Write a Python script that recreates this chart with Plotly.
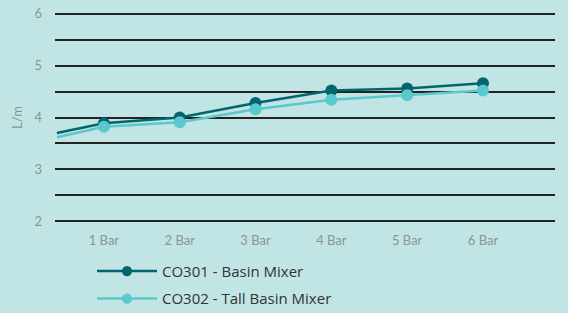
import plotly.graph_objects as go

# Data
x_labels = ["1 Bar", "2 Bar", "3 Bar", "4 Bar", "5 Bar", "6 Bar"]
x_pos = [0.38, 1, 2, 3, 4, 5, 6]          # first point: line start at left edge (no marker)
co301 = [3.70, 3.89, 4.00, 4.28, 4.52, 4.56, 4.66]
co302 = [3.62, 3.82, 3.91, 4.16, 4.34, 4.43, 4.52]
names = ["CO301 - Basin Mixer", "CO302 - Tall Basin Mixer"]
colors = ["#03666f", "#5ac8cc"]

bg = "#c1e5e4"
fig = go.Figure()
for i, (vals, name, col) in enumerate(zip([co301, co302], names, colors)):
    sizes = [0] + [12] * (len(vals) - 1)
    fig.add_trace(go.Scatter(
        x=x_pos, y=vals, name=name, mode="lines+markers",
        line=dict(color=col, width=2.5),
        marker=dict(color=col, size=sizes, opacity=1, line=dict(width=0)),
        legendgroup=f"g{i}",
    ))

fig.update_layout(
    width=568, height=313,
    paper_bgcolor=bg, plot_bgcolor=bg,
    margin=dict(l=55, r=13, t=12, b=90, autoexpand=False),
    font=dict(family="Lato, sans-serif", color="#8a9696", size=13),
    showlegend=True,
    legend=dict(
        orientation="v", x=0.074, xanchor="left", y=0.186, yanchor="top",
        xref="paper", yref="container", bgcolor="rgba(0,0,0,0)", itemwidth=60,
        font=dict(family="Open Sans, sans-serif", size=15, color="#333333"),
        traceorder="grouped", tracegroupgap=5,
    ),
    xaxis=dict(
        range=[0.355, 6.95], tickmode="array", tickvals=list(range(1, 7)),
        ticktext=x_labels, showgrid=False, zeroline=False, showline=False,
        ticks="", ticklabelstandoff=8, automargin=False,
    ),
    yaxis=dict(
        range=[1.97, 6.03], dtick=1, tick0=0, showgrid=True, gridcolor="#222222",
        gridwidth=1.6, zeroline=False, showline=False, ticks="",
        ticklabelstandoff=12, automargin=False,
        minor=dict(dtick=0.5, showgrid=True, gridcolor="#222222", gridwidth=1.6),
        title=dict(text="L/m", standoff=8, font=dict(size=13, color="#8a9696")),
    ),
)

fig.write_html("out.html", config={"displayModeBar": False},
               post_script="document.body.style.margin='0';")
